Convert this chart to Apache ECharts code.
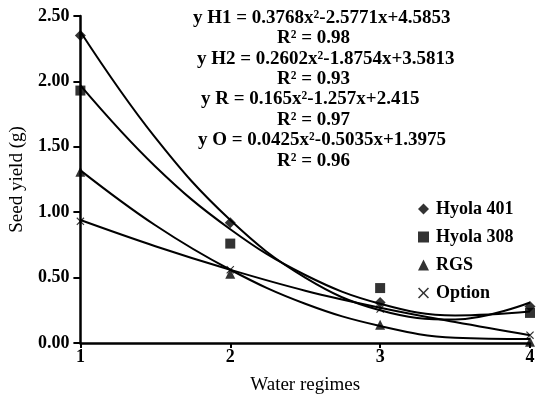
<!DOCTYPE html>
<html>
<head>
<meta charset="utf-8">
<script src="https://cdn.jsdelivr.net/npm/echarts@6/dist/echarts.min.js"></script>
<style>
  html, body { margin: 0; padding: 0; background: #fff; }
  #chart { width: 538px; height: 400px; }
</style>
</head>
<body>
<div id="chart"></div>
<script>
// observed values (water regime 1..4)
var regimes = [1, 2, 3, 4];
var hyola401 = [2.35, 0.92, 0.31, 0.28];
var hyola308 = [1.93, 0.76, 0.42, 0.23];
var rgs = [1.31, 0.53, 0.14, 0.01];
var option = [0.93, 0.56, 0.26, 0.06];

// trend curves
var trendX = [1, 1.5, 2, 2.5, 3, 3.5, 4];
var trendH1 = [2.38, 1.57, 0.94, 0.50, 0.25, 0.18, 0.31];
var trendH2 = [1.97, 1.35, 0.87, 0.52, 0.30, 0.21, 0.24];
var trendR = [1.32, 0.90, 0.56, 0.30, 0.13, 0.04, 0.03];
var trendO = [0.94, 0.74, 0.56, 0.40, 0.27, 0.16, 0.06];

var equations = [
  'y H1 = 0.3768x²-2.5771x+4.5853', 'R² = 0.98',
  'y H2 = 0.2602x²-1.8754x+3.5813', 'R² = 0.93',
  'y R = 0.165x²-1.257x+2.415', 'R² = 0.97',
  'y O = 0.0425x²-0.5035x+1.3975', 'R² = 0.96'
];
var eqMid = [20, 40, 61, 81, 101, 122, 142, 163];
var eqLeft = [193, 277, 197, 277, 201, 277, 198, 277];

var font = '"Liberation Serif", "DejaVu Serif", serif';
var crossPath = 'path://M0,1 L1,0 L5,4 L9,0 L10,1 L6,5 L10,9 L9,10 L5,6 L1,10 L0,9 L4,5 Z';

function pairs(xs, ys) {
  return xs.map(function (x, i) { return [x, ys[i]]; });
}

var myChart = echarts.init(document.getElementById('chart'));

var series = [];
[trendH1, trendH2, trendR, trendO].forEach(function (t) {
  series.push({
    type: 'line',
    data: pairs(trendX, t),
    smooth: 0.4,
    showSymbol: false,
    lineStyle: { color: '#000', width: 2 },
    silent: true,
    z: 2
  });
});
series.push(
  { name: 'Hyola 401', type: 'scatter', symbol: 'diamond', symbolSize: 11, data: pairs(regimes, hyola401), itemStyle: { color: '#000' }, z: 3 },
  { name: 'Hyola 308', type: 'scatter', symbol: 'rect', symbolSize: 10, data: pairs(regimes, hyola308), itemStyle: { color: '#000' }, z: 3 },
  { name: 'RGS', type: 'scatter', symbol: 'triangle', symbolSize: 10, data: pairs(regimes, rgs), itemStyle: { color: '#000' }, z: 3 },
  { name: 'Option', type: 'scatter', symbol: crossPath, symbolSize: 8, data: pairs(regimes, option), itemStyle: { color: '#000' }, z: 3 }
);

myChart.setOption({
  animation: false,
  backgroundColor: '#fff',
  textStyle: { fontFamily: font, color: '#000' },
  grid: { left: 80, right: 8, top: 16, bottom: 54 },
  legend: {
    orient: 'vertical',
    left: 413,
    top: 195,
    itemGap: 10,
    itemWidth: 11,
    itemHeight: 11,
    data: ['Hyola 401', 'Hyola 308', 'RGS', 'Option'],
    textStyle: { fontFamily: font, fontSize: 18, fontWeight: 'bold', color: '#000', padding: [0, 0, 0, 2] }
  },
  xAxis: {
    type: 'value',
    min: 1, max: 4, interval: 1,
    name: 'Water regimes',
    nameLocation: 'middle',
    nameGap: 33,
    nameTextStyle: { fontFamily: font, fontSize: 19, color: '#000' },
    axisLine: { lineStyle: { color: '#000', width: 2.5 } },
    axisTick: { length: 5, lineStyle: { color: '#000', width: 2 } },
    axisLabel: { fontFamily: font, fontSize: 18, fontWeight: 'bold', color: '#000', margin: 5 },
    splitLine: { show: false }
  },
  yAxis: {
    type: 'value',
    min: 0, max: 2.5, interval: 0.5,
    name: 'Seed yield (g)',
    nameLocation: 'middle',
    nameGap: 52,
    nameTextStyle: { fontFamily: font, fontSize: 19, color: '#000' },
    axisLine: { show: true, lineStyle: { color: '#000', width: 2.5 } },
    axisTick: { show: true, length: 7, lineStyle: { color: '#000', width: 2 } },
    axisLabel: {
      fontFamily: font, fontSize: 18, fontWeight: 'bold', color: '#000', margin: 11,
      formatter: function (v) { return v.toFixed(2); }
    },
    splitLine: { show: false }
  },
  graphic: equations.map(function (txt, i) {
    return {
      type: 'text',
      left: eqLeft[i],
      top: eqMid[i] - 11,
      style: { text: txt, font: 'bold 19px ' + font, fill: '#000' },
      z: 10
    };
  }),
  series: series
});

window.onresize = function () {
  myChart.resize();
};
</script>
</body>
</html>
